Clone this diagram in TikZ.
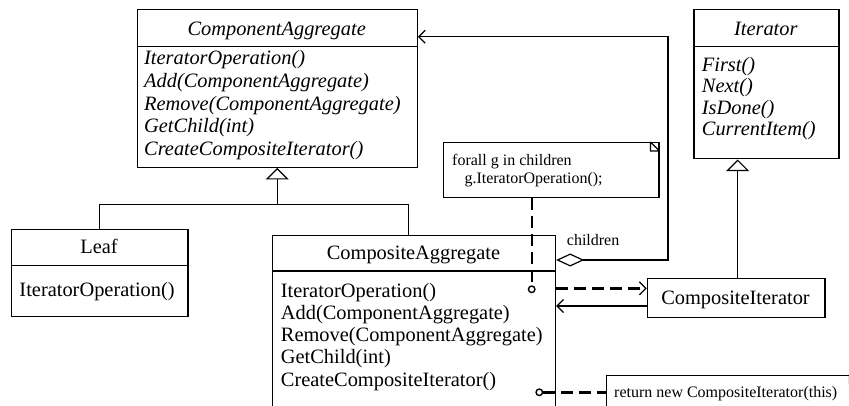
\documentclass[tikz,border=0pt]{standalone}
\usepackage{fontspec}
\setmainfont{Liberation Serif}
\usetikzlibrary{arrows.meta,calc}
\begin{document}
\begin{tikzpicture}[x=1pt,y=-1pt,
  line/.style={line width=1.2pt},
  dashline/.style={line width=2.4pt, dash pattern=on 12pt off 6pt},
  classbox/.style={draw, line width=1.2pt, inner sep=0pt, anchor=north west},
  bigtxt/.style={font=\fontsize{20.4}{23}\selectfont, inner sep=0pt, anchor=base west},
  smalltxt/.style={font=\fontsize{16}{19}\selectfont, inner sep=0pt, anchor=base west},
  port/.style={draw, circle, line width=1.4pt, fill=white, minimum size=6.5pt, inner sep=0pt},
  barb/.style={-{Straight Barb[length=6.5pt,width=13pt,line width=1.2pt]}},
  gen/.style={-{Triangle[open,width=23pt,length=11.6pt,line width=1.2pt]}},
]
\clip (0,0) rectangle (849,406);
\fill[white] (0,0) rectangle (849,406);

% ---- class boxes ----
\node[classbox, minimum width=280pt, minimum height=157.4pt] (compagg) at (136.7,9.3) {};
\node[classbox, minimum width=145pt, minimum height=149pt] (iter) at (693.3,9.3) {};
\node[classbox, minimum width=176.6pt, minimum height=87pt] (leaf) at (10.7,229) {};
\node[classbox, minimum width=283pt, minimum height=200pt] (compaggr) at (272,235) {};
\node[classbox, minimum width=177.6pt, minimum height=38.7pt] (compit) at (646.7,278) {};

% compartment dividers
\draw[line] (compagg.west |- 0,46.7) -- (compagg.east |- 0,46.7);
\draw[line] (iter.west |- 0,46.7) -- (iter.east |- 0,46.7);
\draw[line] (leaf.west |- 0,265.7) -- (leaf.east |- 0,265.7);
\draw[line] (compaggr.west |- 0,271) -- (compaggr.east |- 0,271);

% ---- notes with folded corner ----
\node[classbox, minimum width=215.6pt, minimum height=54.7pt] (note1) at (442.7,142) {};
\draw[line] ($(note1.north east)+(-9,0)$) -- ($(note1.north east)+(-9,9)$) -- ($(note1.north east)+(0,9)$)
            ($(note1.north east)+(-9,0)$) -- ($(note1.north east)+(0,9)$);
\node[classbox, minimum width=251.6pt, minimum height=60pt] (note2) at (605.7,374.7) {};
\draw[line] ($(note2.north east)+(-9,0)$) -- ($(note2.north east)+(-9,9)$) -- ($(note2.north east)+(0,9)$)
            ($(note2.north east)+(-9,0)$) -- ($(note2.north east)+(0,9)$);

% ---- texts ----
\node[bigtxt, anchor=base] (compaggT) at (276.7,35.5) {\itshape ComponentAggregate};
\foreach \t [count=\i from 0] in {IteratorOperation(), Add(ComponentAggregate), Remove(ComponentAggregate), GetChild(int), CreateCompositeIterator()}
  \node[bigtxt] (compagg-\i) at (144,64.7+22.75*\i) {\itshape \t};

\node[bigtxt, anchor=base] (iterT) at (765.8,35.5) {\itshape Iterator};
\foreach \t [count=\i from 0] in {First(), Next(), IsDone(), CurrentItem()}
  \node[bigtxt] (iter-\i) at (701.7,71.3+21.5*\i) {\itshape \t};

\node[bigtxt, anchor=base] (leafT) at (99,253.5) {Leaf};
\node[bigtxt] (leaf-0) at (19.3,296.5) {IteratorOperation()};

\node[bigtxt, anchor=base] (compaggrT) at (413.5,259.5) {CompositeAggregate};
\foreach \t [count=\i from 0] in {IteratorOperation(), Add(ComponentAggregate), Remove(ComponentAggregate), GetChild(int), CreateCompositeIterator()}
  \node[bigtxt] (compaggr-\i) at (280.7,297.3+22.2*\i) {\t};

\node[bigtxt, anchor=base] (compitT) at (735.5,304) {CompositeIterator};

\node[smalltxt] (note1-a) at (452,166) {forall g in children};
\node[smalltxt] (note1-b) at (464.3,184) {g.IteratorOperation();};
\node[smalltxt] (note2-a) at (614,397) {return new CompositeIterator(this)};
\node[smalltxt] (childrenL) at (566.7,246) {children};

% ---- generalizations ----
\coordinate (hub) at (compagg.south |- 0,204.7);
\coordinate (caTop) at ($(compaggr.north west)+(136.3,0)$);
\draw[line] (leaf.north) |- (hub) -| (caTop);
\draw[line, gen] (hub) -- (compagg.south);
\coordinate (ciTop) at ($(compit.north west)+(91,0)$);
\draw[line, gen] (ciTop) -- (ciTop |- iter.south);

% ---- aggregation: children ----
\coordinate (aggS) at (compaggr.east |- 0,260);
\coordinate (aggC) at (668,36.7);
\coordinate (aggT) at (compagg.east |- aggC);
\draw[line, {Diamond[open,width=13pt,length=28pt,line width=1.2pt]}-{Straight Barb[length=6.5pt,width=13pt,line width=1.2pt]}]
  (aggS) -| (aggC) -- (aggT);

% ---- associations with the iterator ----
\draw[dashline, barb] (compaggr.east |- 0,288.3) -- (compit.west |- 0,288.3);
\draw[line, barb] (compit.west |- 0,306) -- (compaggr.east |- 0,306);

% ---- note anchors ----
\node[port] (p1) at (531.7,289.3) {};
\draw[dashline] (p1 |- note1.south) -- (p1.north);
\node[port] (p2) at (539.3,392.3) {};
\draw[dashline] (p2.east) -- (p2 -| note2.west);
\end{tikzpicture}
\end{document}
